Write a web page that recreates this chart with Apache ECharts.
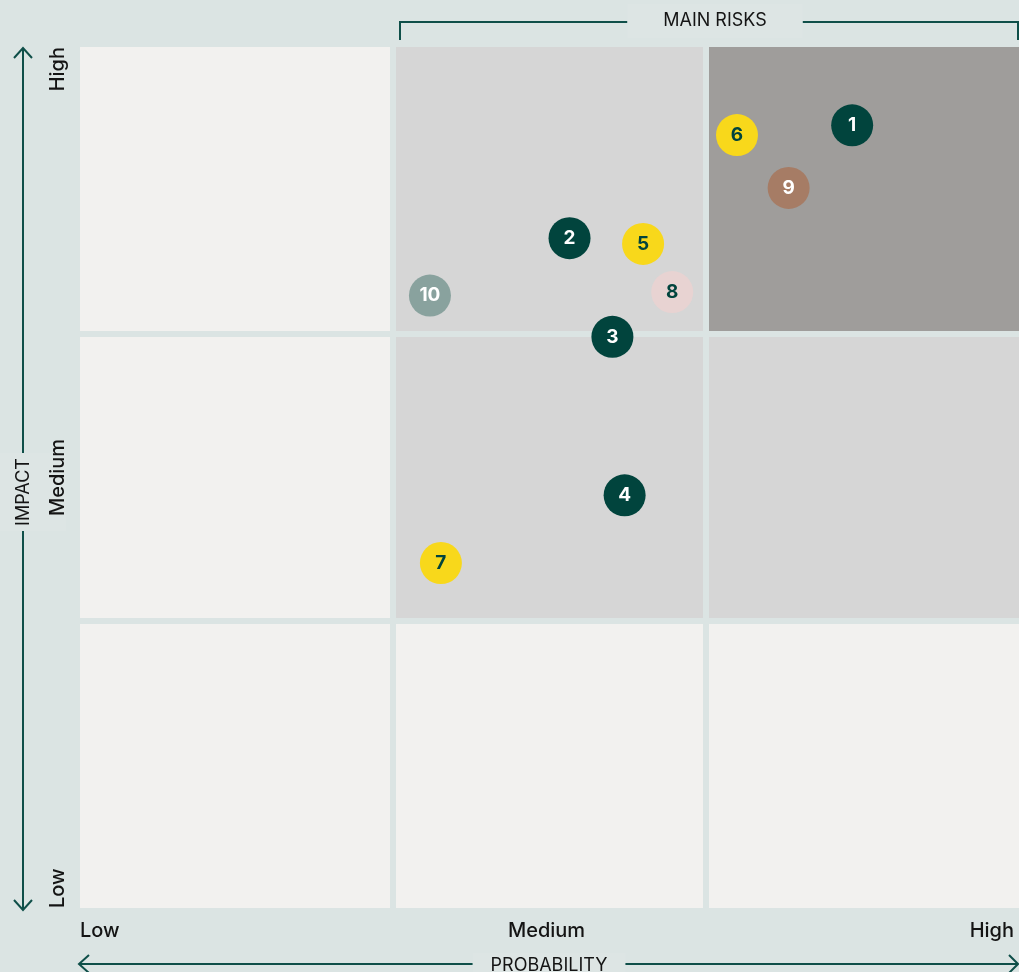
<!DOCTYPE html>
<html>
<head>
<meta charset="utf-8">
<script src="https://cdn.jsdelivr.net/npm/echarts@6/dist/echarts.min.js"></script>
<style>
html,body{margin:0;padding:0;background:#dbe4e3;}
#chart{width:1019px;height:972px;}
</style>
</head>
<body>
<div id="chart"></div>
<script>
// ---- data ----
const probabilityLabels = ['Low', 'Medium', 'High'];
const impactLabels = ['Low', 'Medium', 'High'];
const riskIds = ['1', '2', '3', '4', '5', '6', '7', '8', '9', '10'];
const riskProbability = [2.467, 1.564, 1.701, 1.740, 1.799, 2.099, 1.153, 1.892, 2.264, 1.118];
const riskImpact = [2.727, 2.334, 1.990, 1.438, 2.314, 2.693, 1.202, 2.146, 2.509, 2.134];
const riskGroup = ['core', 'core', 'core', 'core', 'yellow', 'yellow', 'yellow', 'pink', 'brown', 'grey'];
const cellProbability = [0, 1, 2, 0, 1, 2, 0, 1, 2];
const cellImpact = [0, 0, 0, 1, 1, 1, 2, 2, 2];
const cellLevel = ['low', 'low', 'low', 'low', 'mid', 'mid', 'low', 'mid', 'high'];

// ---- styles ----
const BG = '#dbe4e3';
const BOX = '#dde5e4';
const LINE = '#0f4f49';
const TEXT = '#141414';
const FONT = 'Inter, Lato, sans-serif';
const levelColor = { low: '#f2f1ef', mid: '#d6d6d6', high: '#9f9d9b' };
const groupFill = { core: '#01443d', yellow: '#f8d81b', pink: '#e8d3d2', brown: '#a67c65', grey: '#89a29e' };
const groupText = { core: '#ffffff', yellow: '#01443d', pink: '#01443d', brown: '#ffffff', grey: '#ffffff' };

const chart = echarts.init(document.getElementById('chart'), null, { renderer: 'canvas' });

const cellData = cellProbability.map((c, i) => [c, cellImpact[i], cellLevel[i]]);
const riskData = riskIds.map((id, i) => ({
  value: [riskProbability[i], riskImpact[i], id],
  itemStyle: { color: groupFill[riskGroup[i]], opacity: 1 },
  label: { color: groupText[riskGroup[i]] }
}));

const option = {
  backgroundColor: BG,
  animation: false,
  grid: { left: 80, right: -3, top: 47, bottom: 64 },
  xAxis: {
    type: 'value', min: 0, max: 3, interval: 1.5,
    axisLine: { show: false }, axisTick: { show: false }, splitLine: { show: false },
    axisLabel: { show: false }
  },
  yAxis: {
    type: 'value', min: 0, max: 3, interval: 1.5,
    axisLine: { show: false }, axisTick: { show: false }, splitLine: { show: false },
    axisLabel: { show: false }
  },
  series: [
    {
      type: 'custom',
      data: cellData,
      z: 1,
      silent: true,
      renderItem: function (params, api) {
        const c = api.value(0), r = api.value(1);
        const lvl = cellData[params.dataIndex][2];
        const p0 = api.coord([c, r + 1]);
        const p1 = api.coord([c + 1, r]);
        let x0 = p0[0], y0 = p0[1], x1 = p1[0], y1 = p1[1];
        const g = 3;
        if (c > 0) x0 += g;
        if (c < 2) x1 -= g;
        if (r < 2) y0 += g;
        if (r > 0) y1 -= g;
        return { type: 'rect', shape: { x: x0, y: y0, width: x1 - x0, height: y1 - y0 }, style: { fill: levelColor[lvl] } };
      }
    },
    {
      type: 'scatter',
      z: 5,
      symbolSize: 42,
      itemStyle: { opacity: 1 },
      data: riskData,
      label: {
        show: true, position: 'inside', fontSize: 19, fontWeight: 'bold', fontFamily: FONT,
        formatter: p => p.value[2]
      }
    }
  ]
};
chart.setOption(option);

// axis tick labels placed through the chart's own coordinate conversion
const px = v => chart.convertToPixel({ gridIndex: 0 }, [v, 0])[0];
const py = v => chart.convertToPixel({ gridIndex: 0 }, [0, v])[1];
const labelFont = '500 20px ' + FONT;
const xLabelY = py(0) + 23;
const yLabelX = px(0) - 22;
const xAligns = ['left', 'center', 'right'];
const yAligns = ['left', 'center', 'right'];
const xOffsets = [0, -3, -5];
const tickLabels = [];
probabilityLabels.forEach((t, i) => {
  tickLabels.push({ type: 'text', z: 12, x: px(i * 1.5) + xOffsets[i], y: xLabelY,
    style: { text: t, fill: TEXT, font: labelFont, align: xAligns[i], verticalAlign: 'middle' } });
});
impactLabels.forEach((t, i) => {
  tickLabels.push({ type: 'text', z: 12, x: yLabelX, y: py(i * 1.5), rotation: Math.PI / 2,
    style: { text: t, fill: TEXT, font: labelFont, align: yAligns[i], verticalAlign: 'middle' } });
});

const decor = [
  // left impact arrow
  { type: 'line', z: 10, shape: { x1: 23, y1: 48, x2: 23, y2: 909 }, style: { stroke: LINE, lineWidth: 2 } },
  { type: 'polyline', z: 10, shape: { points: [[14, 58], [23, 48], [32, 58]] }, style: { stroke: LINE, lineWidth: 2, fill: null } },
  { type: 'polyline', z: 10, shape: { points: [[14, 900], [23, 910], [32, 900]] }, style: { stroke: LINE, lineWidth: 2, fill: null } },
  { type: 'text', z: 11, x: 24, y: 492, rotation: Math.PI / 2,
    style: { text: 'IMPACT', fill: TEXT, font: '18px ' + FONT, align: 'center', verticalAlign: 'middle',
      backgroundColor: BOX, padding: [34, 5, 32, 5] } },
  // bottom probability arrow
  { type: 'line', z: 10, shape: { x1: 80, y1: 964, x2: 1018, y2: 964 }, style: { stroke: LINE, lineWidth: 2 } },
  { type: 'polyline', z: 10, shape: { points: [[89, 955], [79, 964], [89, 973]] }, style: { stroke: LINE, lineWidth: 2, fill: null } },
  { type: 'polyline', z: 10, shape: { points: [[1009, 955], [1018, 964], [1009, 973]] }, style: { stroke: LINE, lineWidth: 2, fill: null } },
  { type: 'text', z: 11, x: 549, y: 966,
    style: { text: 'PROBABILITY', fill: TEXT, font: '18px ' + FONT, align: 'center', verticalAlign: 'middle',
      backgroundColor: BOX, padding: [4, 18, 4, 18] } },
  // top main risks bracket
  { type: 'polyline', z: 10, shape: { points: [[400, 40], [400, 22], [1018, 22], [1018, 40]] }, style: { stroke: LINE, lineWidth: 2, fill: null } },
  { type: 'text', z: 11, x: 715, y: 21,
    style: { text: 'MAIN RISKS', fill: TEXT, font: '18px ' + FONT, align: 'center', verticalAlign: 'middle',
      backgroundColor: BOX, padding: [8, 36, 8, 36] } }
];
chart.setOption({ graphic: decor.concat(tickLabels) });
</script>
</body>
</html>
